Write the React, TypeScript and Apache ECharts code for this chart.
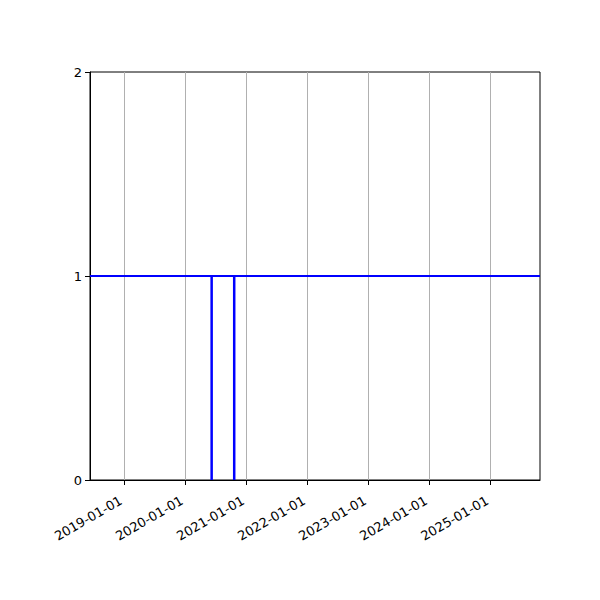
import React, { useEffect, useRef } from 'react';
import * as echarts from 'echarts';

// horizontal level across the whole range, plus two event markers dropping to 0
const levelDates = ['2018-06-10', '2025-10-24'];
const levelValues = [1, 1];
const eventDates = ['2020-06-07', '2020-10-20'];
const eventLow = 0;
const eventHigh = 1;

const xMinDate = '2018-06-10';
const xMaxDate = '2025-10-24';
const tickDates = ['2019-01-01', '2020-01-01', '2021-01-01', '2022-01-01', '2023-01-01', '2024-01-01', '2025-01-01'];

const pad = (n: number) => (n < 10 ? '0' + n : '' + n);
const fmtDate = (v: number) => {
  const d = new Date(v);
  return `${d.getUTCFullYear()}-${pad(d.getUTCMonth() + 1)}-${pad(d.getUTCDate())}`;
};

const App: React.FC = () => {
  const chartRef = useRef<HTMLDivElement>(null);

  useEffect(() => {
    if (!chartRef.current) return;
    const chart = echarts.init(chartRef.current, undefined, { renderer: 'svg' });
    const ticks = tickDates.map((d) => Date.parse(d));
    const blue = '#0000ff';

    const eventSeries = eventDates.map((d) => ({
      type: 'line',
      data: [
        [Date.parse(d), eventLow],
        [Date.parse(d), eventHigh]
      ],
      symbol: 'none',
      lineStyle: { color: blue, width: 2.5 },
      itemStyle: { color: blue }
    }));

    const option = {
      animation: false,
      backgroundColor: '#fff',
      textStyle: { fontFamily: 'DejaVu Sans' },
      grid: {
        left: 90,
        right: 60,
        top: 72,
        bottom: 120,
        show: true,
        borderColor: '#000',
        borderWidth: 1,
        outerBoundsMode: 'none'
      },
      xAxis: {
        type: 'value',
        min: Date.parse(xMinDate),
        max: Date.parse(xMaxDate),
        axisLine: { show: true, lineStyle: { color: '#000', width: 1 } },
        axisTick: {
          show: true,
          length: 5,
          inside: false,
          customValues: ticks,
          lineStyle: { color: '#000' }
        },
        axisLabel: {
          customValues: ticks,
          rotate: 30,
          margin: 25,
          align: 'right',
          verticalAlign: 'bottom',
          fontSize: 13,
          color: '#000',
          formatter: (v: number) => fmtDate(v)
        },
        splitLine: { show: true, lineStyle: { color: '#b0b0b0', width: 1 } }
      },
      yAxis: {
        type: 'value',
        min: 0,
        max: 2,
        interval: 1,
        axisLine: { show: true, lineStyle: { color: '#000', width: 1 } },
        axisTick: { show: true, length: 5, inside: false, lineStyle: { color: '#000' } },
        axisLabel: { fontSize: 13, color: '#000', margin: 8 },
        splitLine: { show: false }
      },
      series: [
        {
          type: 'line',
          data: levelDates.map((d, i) => [Date.parse(d), levelValues[i]]),
          symbol: 'none',
          lineStyle: { color: blue, width: 2 },
          itemStyle: { color: blue }
        },
        ...eventSeries
      ]
    };

    chart.setOption(option);
    return () => {
      chart.dispose();
    };
  }, []);

  return (
    <div
      ref={chartRef}
      style={{ position: 'fixed', left: 0, top: 0, width: 600, height: 600 }}
    />
  );
};

export default App;
